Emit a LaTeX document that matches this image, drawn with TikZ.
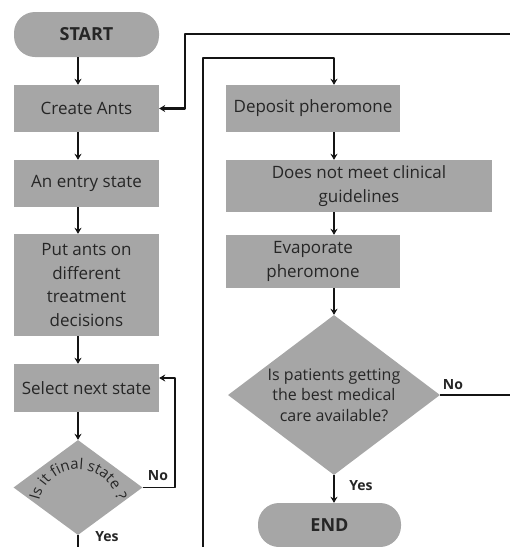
\documentclass[tikz,border=0pt]{standalone}
\usepackage{fontspec}
\setmainfont{Open Sans}
\usepackage{xcolor}
\usepackage{tikz}
\usetikzlibrary{arrows.meta,shapes.geometric,decorations.text}
\definecolor{boxgray}{HTML}{A6A6A6}
\definecolor{ink}{HTML}{262626}
\definecolor{dark}{HTML}{141414}

\begin{document}
\begin{tikzpicture}[x=1pt,y=1pt,line join=round,
  box/.style={fill=boxgray,text=ink,minimum width=145pt,align=center,inner sep=2pt,font=\fontsize{17}{23.5}\selectfont},
  pill/.style={box,rounded corners=21pt,font=\fontsize{18}{18}\selectfont\bfseries},
  decision/.style={diamond,fill=boxgray,text=ink,inner sep=0pt,align=center,font=\fontsize{16}{20.5}\selectfont},
  wire/.style={dark,line width=1.6pt},
  flow/.style={wire,-{Stealth[length=6pt,width=7pt]}},
  tag/.style={text=ink,font=\fontsize{14}{14}\selectfont\bfseries,inner sep=0pt}]
  \useasboundingbox (0,0) rectangle (510,-547);
  % left column
  \node[pill,minimum height=45pt] (start) at (86.5,-34.5) {START};
  \node[box,minimum height=47pt] (create) at (86.5,-108.5) {Create Ants};
  \node[box,minimum height=47pt] (entry) at (86.5,-183.5) {An entry state};
  \node[box,minimum height=102pt] (putants) at (86.5,-285) {Put ants on\\different\\treatment\\decisions};
  \node[box,minimum height=48pt] (select) at (86.5,-388) {Select next state};
  \node[decision,minimum width=129pt,minimum height=95pt] (final) at (78,-487.5) {};
  \path[decorate,decoration={text along path,text align=center,text color=ink,
    text={|\fontsize{15}{15}\selectfont|Is it final state ?}}]
    (final.center) ++(0,-22) ++(185:40) arc[start angle=185,end angle=-5,radius=40];
  % right column
  \node[box,minimum width=174pt,minimum height=47pt] (deposit) at (313,-108.5) {Deposit pheromone};
  \node[box,minimum width=266pt,minimum height=52pt] (clinical) at (359,-186) {Does not meet clinical\\guidelines};
  \node[box,minimum width=174pt,minimum height=53pt] (evap) at (313,-261.5) {Evaporate\\pheromone};
  \node[decision,aspect=1.33,minimum width=212pt,minimum height=160pt] (care) at (334,-395) {Is patients getting\\the best medical\\care available?};
  \node[pill,minimum width=143pt,minimum height=44pt] (end) at (329.5,-525) {END};
  % labels
  \node[tag] (nofinal) at (158,-476) {No};
  \node[tag] (yesfinal) at (107,-537) {Yes};
  \node[tag] (yescare) at (361,-486) {Yes};
  \node[tag] (nocare) at (453,-385) {No};
  % free ends and bends
  \coordinate (loopR) at (175,-378);
  \coordinate (yesOut) at (78,-552);
  \coordinate (backIn) at (203,-552);
  \coordinate (topR) at (334,-58);
  \coordinate (edgeT) at (515,-34);
  \coordinate (bendT) at (185,-34);
  \coordinate (edgeR) at (515,-395);
  % connectors
  \draw[flow] (start.south -| final) -- (create.north -| final);
  \draw[flow] (create.south -| final) -- (entry.north -| final);
  \draw[flow] (entry.south -| final) -- (putants.north -| final);
  \draw[flow] (putants.south -| final) -- (select.north -| final);
  \draw[flow] (select.south -| final) -- (final.north);
  \draw[flow] (final.east) -| (loopR) -- (loopR -| select.east);
  \draw[wire] (final.south) -- (yesOut);
  \draw[flow] (backIn) |- (topR) -- (deposit.north -| topR);
  \draw[flow,line width=2.6pt] (edgeT) -- (bendT) |- (create.east);
  \draw[flow] (deposit.south -| care) -- (clinical.north -| care);
  \draw[flow] (clinical.south -| care) -- (evap.north -| care);
  \draw[flow] (evap.south -| care) -- (care.north);
  \draw[flow] (care.south) -- (end.north -| care);
  \draw[wire] (care.east) -- (edgeR);
\end{tikzpicture}
\end{document}
